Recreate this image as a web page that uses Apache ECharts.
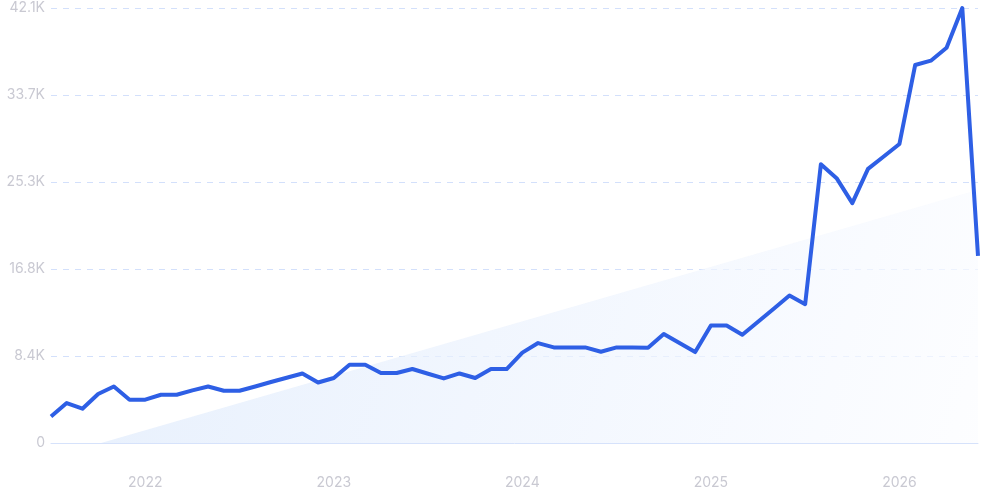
<!DOCTYPE html>
<html>
<head>
<meta charset="utf-8">
<script src="https://cdn.jsdelivr.net/npm/echarts@6/dist/echarts.min.js"></script>
<style>
  html, body { margin: 0; padding: 0; background: #fff; }
  #chart { width: 981px; height: 500px; }
</style>
</head>
<body>
<div id="chart"></div>
<script>
// monthly points, Jul 2021 .. Jun 2026
var months = [
  '2021-07','2021-08','2021-09','2021-10','2021-11','2021-12',
  '2022-01','2022-02','2022-03','2022-04','2022-05','2022-06','2022-07','2022-08','2022-09','2022-10','2022-11','2022-12',
  '2023-01','2023-02','2023-03','2023-04','2023-05','2023-06','2023-07','2023-08','2023-09','2023-10','2023-11','2023-12',
  '2024-01','2024-02','2024-03','2024-04','2024-05','2024-06','2024-07','2024-08','2024-09','2024-10','2024-11','2024-12',
  '2025-01','2025-02','2025-03','2025-04','2025-05','2025-06','2025-07','2025-08','2025-09','2025-10','2025-11','2025-12',
  '2026-01','2026-02','2026-03','2026-04','2026-05','2026-06'
];
var volume = [
  2570, 3870, 3320, 4740, 5470, 4190,
  4190, 4670, 4670, 5090, 5470, 5060, 5060, 5470, 5900, 6310, 6730, 5860,
  6290, 7570, 7570, 6770, 6770, 7160, 6700, 6250, 6730, 6290, 7160, 7160,
  8750, 9670, 9250, 9250, 9250, 8830, 9250, 9250, 9220, 10540, 9670, 8800,
  11370, 11370, 10470, 11730, 12990, 14270, 13440, 26980, 25630, 23210, 26530, 27730,
  28940, 36580, 37000, 38250, 42100, 18110
];
// trend line end points [index, value]
var trend = [[0, -1400], [59, 24500]];
var yTicks = { min: 0, max: 42100, step: 8420 };

var chart = echarts.init(document.getElementById('chart'));
chart.setOption({
  animation: false,
  grid: { left: 51, right: 3, top: 8, bottom: 57 },
  xAxis: {
    type: 'category',
    data: months,
    boundaryGap: false,
    axisLine: { show: true, lineStyle: { color: '#d6e2fb', width: 1 } },
    axisTick: { show: false },
    splitLine: { show: false },
    axisLabel: {
      color: '#c9c9d2',
      fontSize: 14,
      fontFamily: 'Inter',
      margin: 33,
      interval: function (i, v) { return v.slice(5) === '01'; },
      formatter: function (v) { return v.slice(0, 4); }
    }
  },
  yAxis: {
    type: 'value',
    min: yTicks.min,
    max: yTicks.max,
    interval: yTicks.step,
    axisLine: { show: false },
    axisTick: { show: false },
    splitLine: { show: true, lineStyle: { color: '#d3e0fb', type: [6, 6], width: 1 } },
    axisLabel: {
      color: '#c9c9d2',
      fontSize: 14,
      fontFamily: 'Inter',
      margin: 6,
      formatter: function (v) { return v === 0 ? '0' : (v / 1000).toFixed(1) + 'K'; }
    }
  },
  series: [
    {
      type: 'line',
      data: trend,
      symbol: 'none',
      clip: true,
      lineStyle: { width: 0 },
      areaStyle: {
        origin: 0,
        color: new echarts.graphic.LinearGradient(0, 0, 1, 1, [
          { offset: 0, color: '#dbe8fb' },
          { offset: 1, color: '#fbfcff' }
        ])
      },
      z: 1
    },
    {
      type: 'line',
      data: volume,
      symbol: 'none',
      clip: false,
      lineStyle: { color: '#2e5fe5', width: 4, join: 'round' },
      z: 3
    }
  ]
});
</script>
</body>
</html>
